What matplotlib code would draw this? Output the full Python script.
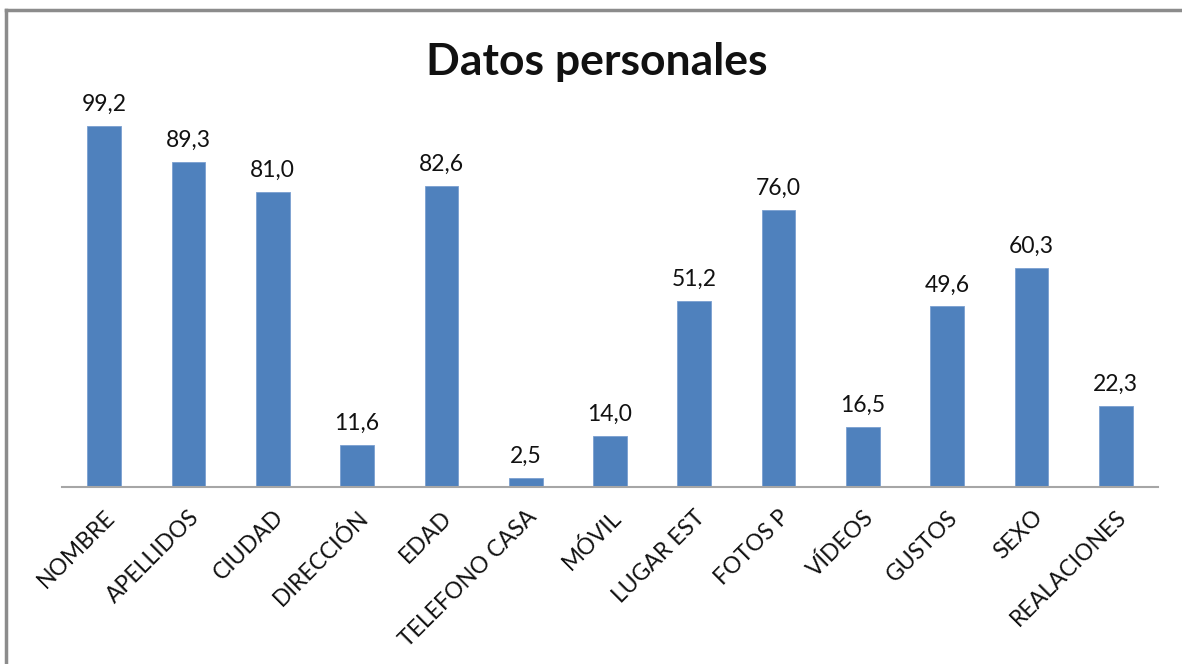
import matplotlib.pyplot as plt
from matplotlib.lines import Line2D

categorias = ["NOMBRE", "APELLIDOS", "CIUDAD", "DIRECCIÓN", "EDAD",
              "TELEFONO CASA", "MÓVIL", "LUGAR EST", "FOTOS P", "VÍDEOS",
              "GUSTOS", "SEXO", "REALACIONES"]
valores = [99.2, 89.3, 81.0, 11.6, 82.6, 2.5, 14.0, 51.2, 76.0, 16.5,
           49.6, 60.3, 22.3]

AZUL = "#4F81BD"


def main():
    plt.rcParams['font.family'] = ['Lato', 'DejaVu Sans']

    fig = plt.figure(figsize=(11.82, 6.64), dpi=100)
    W, H = 1182, 664

    # marco gris del grafico (recortado por la derecha y abajo)
    fig.add_artist(Line2D([6 / W, 6 / W], [0, 1 - 10 / H], color="#8c8c8c",
                          lw=2.5, transform=fig.transFigure))
    fig.add_artist(Line2D([6 / W, 1], [1 - 10 / H, 1 - 10 / H], color="#8c8c8c",
                          lw=2.5, transform=fig.transFigure))

    left, right = 62 / W, 1158 / W
    bottom = (H - 487) / H
    top = (H - 123) / H
    ax = fig.add_axes([left, bottom, right - left, top - bottom])

    x = range(len(categorias))
    ax.bar(x, valores, width=0.4, color=AZUL, edgecolor="#7a9fd0", linewidth=0.6)

    for i, v in enumerate(valores):
        ax.annotate(f"{v:.1f}".replace(".", ","), (i, v), xytext=(0, 8),
                    textcoords="offset points", ha="center", va="bottom",
                    fontsize=16.5, color="#111111")

    ax.set_xlim(-0.5, len(categorias) - 0.5)
    ax.set_ylim(0, 100)
    for s in ["top", "left", "right"]:
        ax.spines[s].set_visible(False)
    ax.spines["bottom"].set_color("#a6a6a6")
    ax.spines["bottom"].set_linewidth(1.5)
    ax.set_yticks([])
    ax.set_xticks(list(x))
    ax.set_xticklabels(categorias, rotation=45, ha="right", va="top",
                       rotation_mode="anchor", fontsize=16.5, color="#111111")
    ax.tick_params(axis="x", length=0, pad=14)

    fig.text(0.505, 1 - 62 / H, "Datos personales", ha="center", va="center",
             fontsize=32, fontweight="bold", color="#111111")

    fig.savefig("out.png", dpi=100)


if __name__ == "__main__":
    main()
